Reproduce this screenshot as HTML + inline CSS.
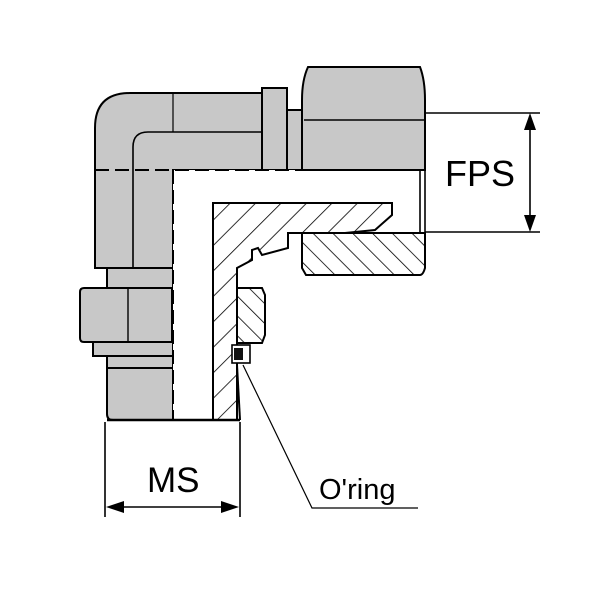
<!DOCTYPE html>
<html><head><style>html,body{margin:0;padding:0;background:#fff}svg{display:block}</style></head><body>
<svg width="600" height="600" viewBox="0 0 600 600" xmlns="http://www.w3.org/2000/svg">
<defs>
<pattern id="h" patternUnits="userSpaceOnUse" width="18" height="18" patternTransform="rotate(45)">
<rect width="18" height="18" fill="#fff"/><line x1="0" y1="0" x2="0" y2="18" stroke="#000" stroke-width="1.6"/>
</pattern>
<pattern id="h2" patternUnits="userSpaceOnUse" width="14" height="14" patternTransform="rotate(-45)">
<rect width="14" height="14" fill="#fff"/><line x1="0" y1="0" x2="0" y2="14" stroke="#000" stroke-width="1.6"/>
</pattern>
</defs>
<g stroke="#000" stroke-width="2" fill="#c8c8c8">
<path d="M95 268 V128 Q95 93 130 93 H262 V170 H173 V268 Z"/>
<path d="M133 268 V147 Q133 132 148 132 H262" fill="none" stroke-width="1.6"/>
<line x1="173" y1="93" x2="173" y2="132" stroke-width="1.2"/>
<rect x="262" y="88" width="25" height="82"/>
<rect x="287" y="110" width="15" height="60"/>
<path d="M308 67 H420 Q425 80 425 100 V170 H302 V100 Q302 80 308 67 Z"/>
<line x1="304" y1="120" x2="424" y2="120" stroke-width="1.6"/>
<rect x="107" y="268" width="66" height="20"/>
<path d="M80 292 Q80 288 84 288 H172 V342 H84 Q80 342 80 338 Z"/>
<line x1="128" y1="289" x2="128" y2="341" stroke-width="1.4"/>
<rect x="93" y="342" width="80" height="14"/>
<rect x="107" y="356" width="66" height="12"/>
<path d="M109 368 H173 V420 H113 Q107 420 107 414 V368 Z"/>
</g>
<path d="M173 170 H420 V233 H392 V203 H213 V420 H173 Z" fill="#fff" stroke="none"/>
<g stroke="#000" stroke-width="2" fill="none" stroke-dasharray="14 6">
<line x1="95" y1="170" x2="302" y2="170"/>
<line x1="173" y1="170" x2="173" y2="420"/>
</g>
<line x1="302" y1="170" x2="425" y2="170" stroke="#000" stroke-width="2"/>
<line x1="420" y1="170" x2="420" y2="233" stroke="#000" stroke-width="1.6"/>
<line x1="425" y1="170" x2="425" y2="233" stroke="#000" stroke-width="1.6"/>
<path d="M213 203 H392 V215 L375 230 L345 233 H288 V248 L262 255 L258 248 L252 250 V260 L237 268 V420 H213 Z" fill="url(#h)" stroke="#000" stroke-width="2"/>
<path d="M302 233 H425 V268 Q423 275 420 275 H306 L302 268 Z" fill="url(#h2)" stroke="#000" stroke-width="2"/>
<path d="M237 288 H262 L265 295 V335 L262 343 H237 Z" fill="url(#h2)" stroke="#000" stroke-width="2"/>
<rect x="232" y="345" width="18" height="18" fill="#fff" stroke="#000" stroke-width="1.6"/>
<rect x="234" y="348" width="9" height="12" fill="#111"/>
<line x1="237" y1="365" x2="240" y2="420" stroke="#000" stroke-width="2"/>
<line x1="107" y1="420" x2="240" y2="420" stroke="#000" stroke-width="2.4"/>
<g stroke="#000" stroke-width="1.6" fill="none">
<line x1="425" y1="113" x2="540" y2="113"/>
<line x1="425" y1="232" x2="540" y2="232"/>
<line x1="530" y1="116" x2="530" y2="229"/>
<line x1="105" y1="422" x2="105" y2="517"/>
<line x1="240" y1="422" x2="240" y2="517"/>
<line x1="110" y1="507" x2="235" y2="507"/>
<polyline points="243,365 312,508 418,508" stroke-width="1.2"/>
</g>
<g fill="#000">
<path d="M530 113 L524 130 L536 130 Z"/>
<path d="M530 232 L524 215 L536 215 Z"/>
<path d="M106 507 L124 501 L124 513 Z"/>
<path d="M239 507 L221 501 L221 513 Z"/>
</g>
<g font-family="Liberation Sans, sans-serif" fill="#000">
<text x="445" y="186" font-size="36">FPS</text>
<text x="147" y="492" font-size="35">MS</text>
<text x="319" y="499" font-size="29">O'ring</text>
</g>
</svg>
</body></html>
